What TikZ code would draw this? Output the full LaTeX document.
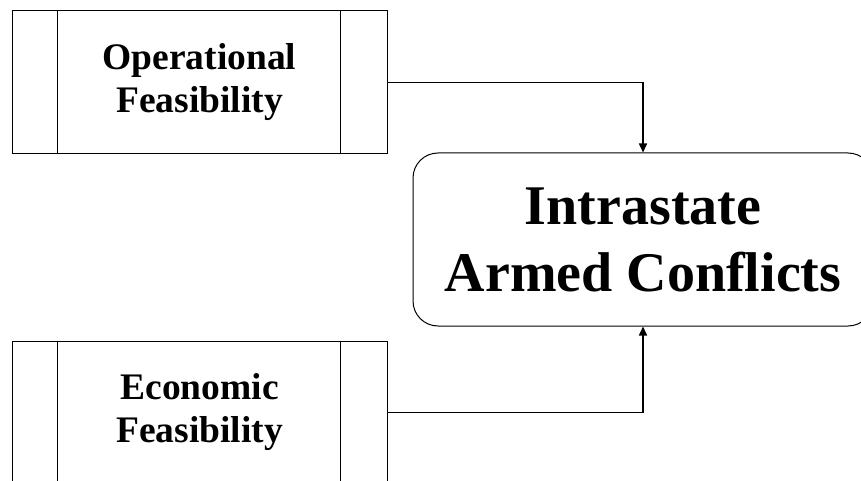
\documentclass[tikz,border=0pt]{standalone}
\usepackage{fontspec}
\setmainfont{Liberation Serif}
\usetikzlibrary{arrows.meta}

\begin{document}
\begin{tikzpicture}[x=1pt,y=-1pt,line width=1pt]
\tikzset{feasbox/.style={draw,minimum width=375pt,minimum height=143pt,align=center,
  font=\bfseries\fontsize{37.5}{43}\selectfont},
  conflbox/.style={draw,rounded corners=25pt,minimum width=460pt,minimum height=173pt,align=center,
  font=\bfseries\fontsize{56}{67}\selectfont},
  link/.style={line width=1.6pt,-{Triangle[length=9pt,width=8pt]}}}
\useasboundingbox (0,0) rectangle (861,481);
\node[feasbox] (oper) at (199.5,82.5) {Operational\\Feasibility};
\node[feasbox] (econ) at (199.5,412.5) {Economic\\Feasibility};
\node[conflbox] (confl) at (643,239.5) {Intrastate\\Armed Conflicts};
\draw ([xshift=46pt]oper.north west) -- ([xshift=46pt]oper.south west);
\draw ([xshift=-47pt]oper.north east) -- ([xshift=-47pt]oper.south east);
\draw ([xshift=46pt]econ.north west) -- ([xshift=46pt]econ.south west);
\draw ([xshift=-47pt]econ.north east) -- ([xshift=-47pt]econ.south east);
\draw[link] (oper.east) -| (confl.north);
\draw[link] (econ.east) -| (confl.south);
\end{tikzpicture}
\end{document}
